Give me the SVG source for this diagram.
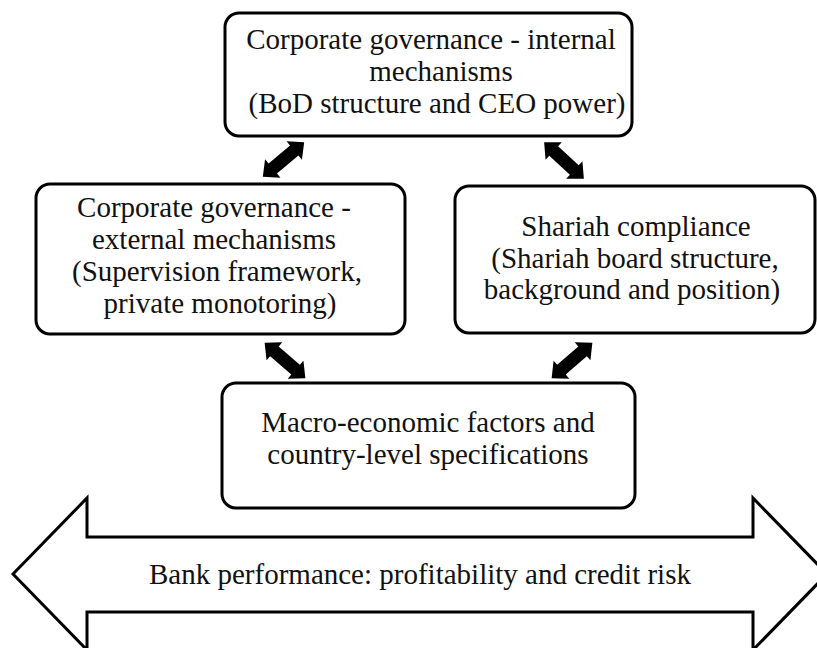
<svg xmlns="http://www.w3.org/2000/svg" width="817" height="648" viewBox="0 0 817 648">
  <style>
    .box { fill: #ffffff; stroke: #000000; stroke-width: 3; }
    .big { fill: #ffffff; stroke: #000000; stroke-width: 3; stroke-linejoin: miter; }
    .lbl { font-family: "Liberation Serif", "Times New Roman", serif; font-size: 29px; fill: #111111; text-anchor: middle; }
    .dbl { fill: #000000; stroke: none; }
  </style>
  <defs>
    <path id="dblArrow" d="M -27 0 L -14 -12 L -14 -6.5 L 14 -6.5 L 14 -12 L 27 0 L 14 12 L 14 6.5 L -14 6.5 L -14 12 Z"/>
  </defs>
  <rect width="817" height="648" fill="#ffffff"/>

  <g id="bank-performance">
    <polygon class="big" points="13,574 87,498 87,537 753,537 753,498 827,574 753,650 753,612 87,612 87,650"/>
    <text class="lbl" x="420" y="584">Bank performance: profitability and credit risk</text>
  </g>

  <g id="internal-mechanisms">
    <rect class="box" x="225" y="13" width="407" height="123" rx="14"/>
    <text class="lbl" x="431" y="49">Corporate governance - internal</text>
    <text class="lbl" x="441" y="81">mechanisms</text>
    <text class="lbl" x="437" y="113">(BoD structure and CEO power)</text>
  </g>

  <g id="external-mechanisms">
    <rect class="box" x="36" y="184" width="369" height="150" rx="14"/>
    <text class="lbl" x="214" y="217">Corporate governance -</text>
    <text class="lbl" x="214" y="249">external mechanisms</text>
    <text class="lbl" x="217" y="281">(Supervision framework,</text>
    <text class="lbl" x="220" y="313">private monotoring)</text>
  </g>

  <g id="shariah-compliance">
    <rect class="box" x="455" y="186" width="360" height="147" rx="14"/>
    <text class="lbl" x="636" y="236">Shariah compliance</text>
    <text class="lbl" x="635" y="268">(Shariah board structure,</text>
    <text class="lbl" x="632" y="299">background and position)</text>
  </g>

  <g id="macro-economic">
    <rect class="box" x="222" y="383" width="413" height="125" rx="14"/>
    <text class="lbl" x="428" y="432">Macro-economic factors and</text>
    <text class="lbl" x="428" y="464">country-level specifications</text>
  </g>

  <g id="connectors">
    <use class="dbl" href="#dblArrow" transform="translate(283.5,159.5) rotate(-40)"/>
    <use class="dbl" href="#dblArrow" transform="translate(564,160.5) rotate(42.6)"/>
    <use class="dbl" href="#dblArrow" transform="translate(285,360.5) rotate(41)"/>
    <use class="dbl" href="#dblArrow" transform="translate(572,360.5) rotate(-41)"/>
  </g>
</svg>
